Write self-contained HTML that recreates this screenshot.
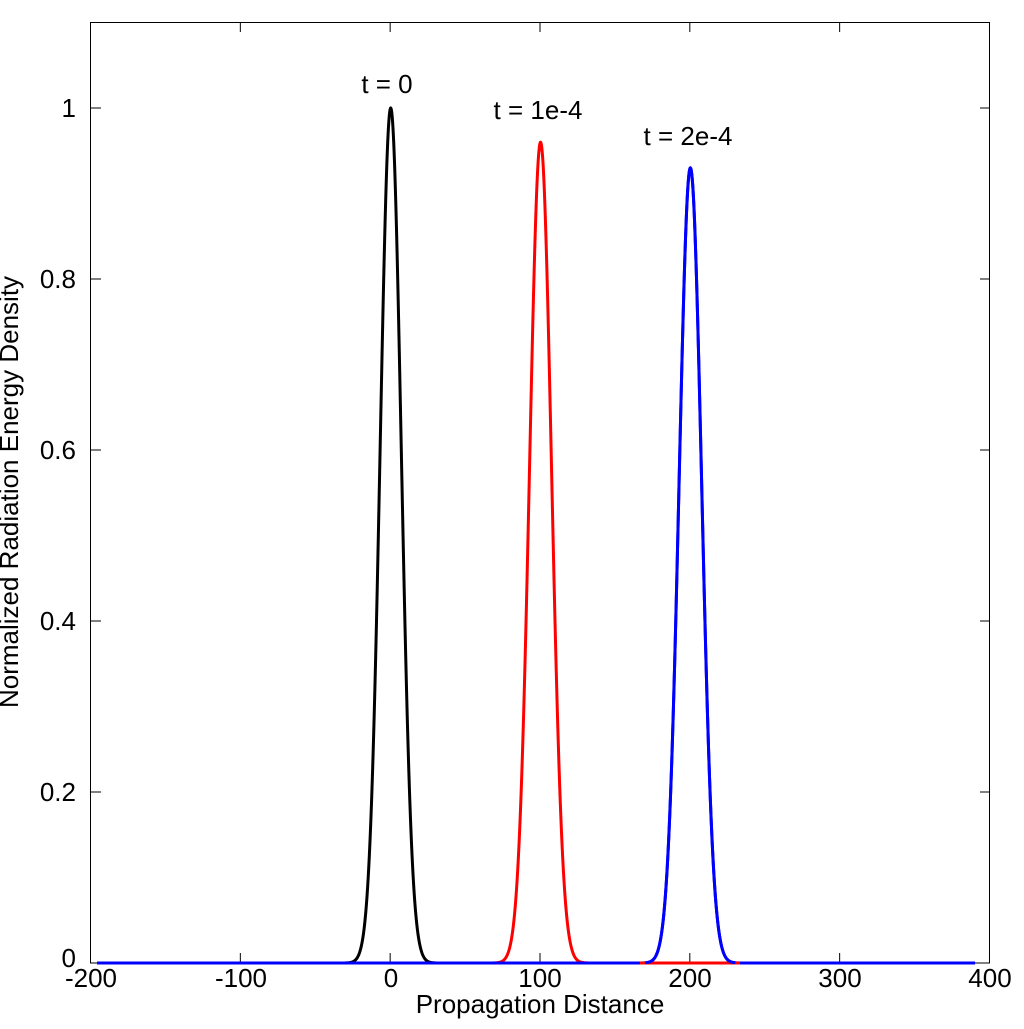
<!DOCTYPE html>
<html><head><style>
body{margin:0;background:#fff;}
svg text{font-family:"Liberation Sans",sans-serif;font-size:26px;fill:#000;}
</style></head><body>
<svg id="s" width="1024" height="1024" xmlns="http://www.w3.org/2000/svg">
<rect x="90.5" y="22.5" width="899" height="940.5" fill="none" stroke="#000" stroke-width="1"/>
<g id="ticks" stroke="#000" stroke-width="1"></g>
<g id="curves" fill="none" stroke-width="3" stroke-linejoin="round"></g>
<text x="91" y="987" text-anchor="middle">-200</text>
<text x="241" y="987" text-anchor="middle">-100</text>
<text x="391" y="987" text-anchor="middle">0</text>
<text x="540" y="987" text-anchor="middle">100</text>
<text x="690" y="987" text-anchor="middle">200</text>
<text x="840" y="987" text-anchor="middle">300</text>
<text x="990" y="987" text-anchor="middle">400</text>
<text x="76" y="967" text-anchor="end">0</text>
<text x="76" y="801" text-anchor="end">0.2</text>
<text x="76" y="630" text-anchor="end">0.4</text>
<text x="76" y="459" text-anchor="end">0.6</text>
<text x="76" y="288" text-anchor="end">0.8</text>
<text x="76" y="117" text-anchor="end">1</text>
<text x="540" y="1013" text-anchor="middle">Propagation Distance</text>
<text x="0" y="0" text-anchor="middle" transform="translate(18,492) rotate(-90)">Normalized Radiation Energy Density</text>
<text x="387" y="93" text-anchor="middle">t = 0</text>
<text x="538" y="119" text-anchor="middle">t = 1e-4</text>
<text x="688" y="145" text-anchor="middle">t = 2e-4</text>
</svg>
<script>
var X=function(v){return 390.7+v*1.4983;},Y=function(v){return 963-v*855;};
var t=document.getElementById('ticks'),h='';
for(var i=0;i<=6;i++){var x=90.5+i*149.83;h+='<line x1="'+x+'" y1="963" x2="'+x+'" y2="953"/><line x1="'+x+'" y1="22" x2="'+x+'" y2="32"/>';}
for(var j=0;j<=5;j++){var y=963-j*171;h+='<line x1="91" y1="'+y+'" x2="101" y2="'+y+'"/><line x1="990" y1="'+y+'" x2="980" y2="'+y+'"/>';}
t.innerHTML=h;
function g(c,p,s,col,a,b){var pts=[];for(var v=a;v<=b;v+=0.25){pts.push(X(v).toFixed(2)+','+Y(p*Math.exp(-(v-c)*(v-c)/(2*s*s))).toFixed(2));}
return '<polyline stroke="'+col+'" points="'+pts.join(' ')+'"/>';}
var c='';
c+=g(0,1,7,'#000',-40,40);
c+=g(100,0.96,7.3,'#f00',60,140);
c+=g(200,0.93,7.5,'#00f',-196,390);
c+='<line x1="640" y1="963" x2="740" y2="963" stroke="#f00"/>';
c+=g(200,0.93,7.5,'#00f',170,230);
document.getElementById('curves').innerHTML=c;
</script>
</body></html>
